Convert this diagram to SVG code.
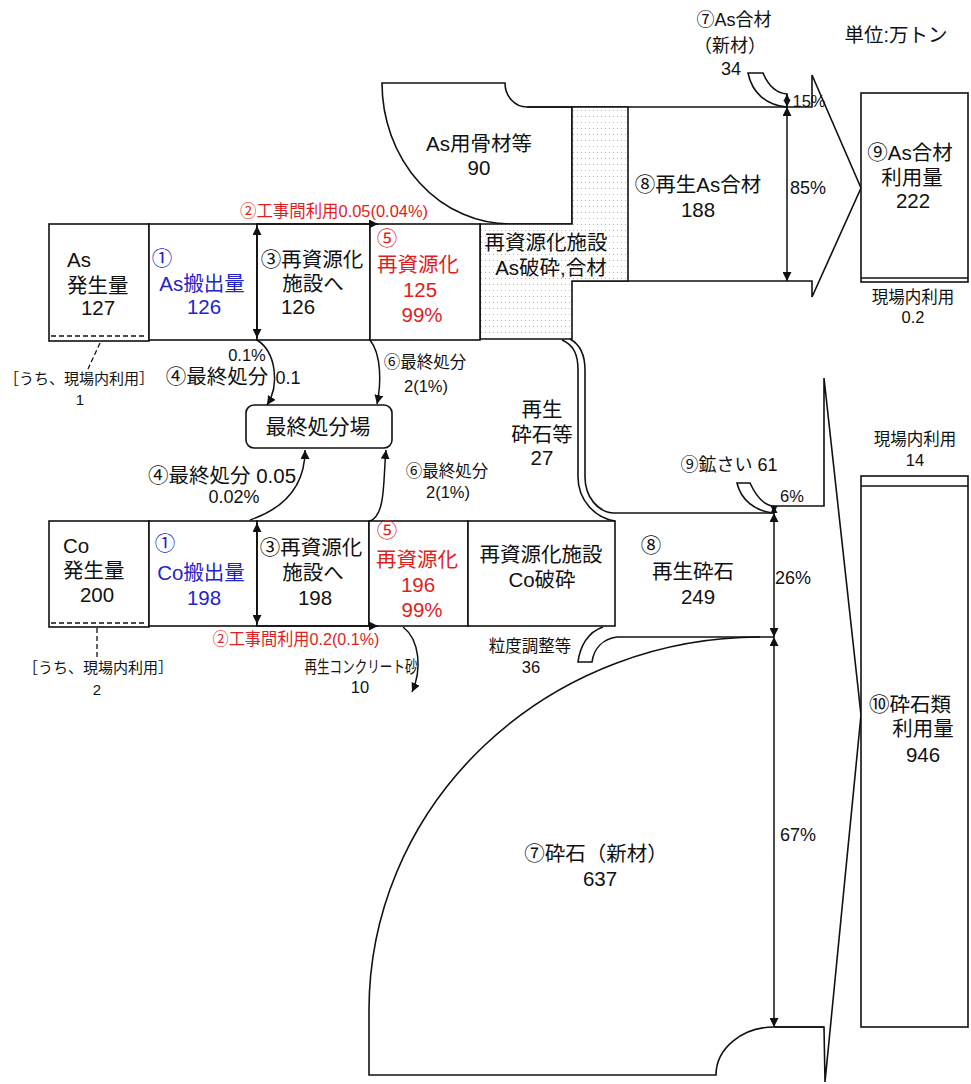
<svg xmlns="http://www.w3.org/2000/svg" width="971" height="1084" viewBox="0 0 971 1084">
<defs>
<style>
text{font-family:"Liberation Sans","Noto Sans CJK JP",sans-serif;fill:#111}
.L{font-size:20.5px}
.M{font-size:18px}
.S{font-size:16.5px}
.X{font-size:15px}
.c{text-anchor:middle}
.blue{fill:#2424c8}
.red{fill:#e01e1e}
.o{fill:#fff;stroke:#111;stroke-width:1.6}
.n{fill:none;stroke:#111;stroke-width:1.6}
.cn{fill:none;stroke:#111;stroke-width:1.5}
.dash{fill:none;stroke:#111;stroke-width:1.3;stroke-dasharray:5 3}
</style>
<marker id="ah" viewBox="0 0 10 10" refX="10" refY="5" markerWidth="9" markerHeight="9" markerUnits="userSpaceOnUse" orient="auto-start-reverse"><path d="M0,0 L10,5 L0,10 z" fill="#111"/></marker>
<marker id="ahs" viewBox="0 0 10 10" refX="10" refY="5" markerWidth="7" markerHeight="8" markerUnits="userSpaceOnUse" orient="auto-start-reverse"><path d="M0,0 L10,5 L0,10 z" fill="#111"/></marker>
<pattern id="dots" width="4" height="6" patternUnits="userSpaceOnUse"><rect width="4" height="6" fill="#fff"/><rect x="1" y="2" width="1" height="1" fill="#b4b4b4"/></pattern>
</defs>
<rect width="971" height="1084" fill="#fff"/>

<g id="unit"><text class="c" style="font-size:19.5px" x="896" y="42">単位:万トン</text></g>

<!-- Co virgin crushed stone -->
<g id="virgin-crushed-stone">
<path class="o" d="M760,637 A391,373 0 0 0 369,1010 V1075 H716 A58,48 0 0 1 774,1027 H824"/>
<text class="L c" x="596" y="861">⑦砕石（新材）</text>
<text class="L c" x="600" y="886">637</text>
</g>

<g id="crushed-stone-arrow">
<path class="n" d="M773,506 H824 V378 L861,715 L825,1082 L824,1027 H774"/>
</g>

<g id="crushed-stone-use">
<rect class="o" x="861" y="476" width="107" height="551"/>
<line class="n" x1="861" y1="486" x2="968" y2="486"/>
<text class="S c" x="915" y="445">現場内利用</text>
<text class="S c" x="915" y="466">14</text>
<text class="L c" x="910" y="712">⑩砕石類</text>
<text class="L c" x="923" y="736">利用量</text>
<text class="L c" x="923" y="762">946</text>
</g>

<!-- As aggregate -->
<g id="as-aggregate">
<path class="o" d="M382,83 H505 A22,24 0 0 0 527,107 H572 V224 H510 A128,141 0 0 1 382,83 Z"/>
<text class="L c" x="479" y="151">As用骨材等</text>
<text class="L c" x="479" y="175">90</text>
</g>

<g id="as-recycled">
<path class="n" d="M527,107 H812 V75 L861,188 L812,297 V281 H572"/>
<text class="L c" x="698" y="192">⑧再生As合材</text>
<text class="L c" x="698" y="217">188</text>
</g>

<g id="as-virgin">
<path class="o" d="M748,73 H763 C768,85 775,93 787,94 V107 C765,105 752,92 748,73 Z"/>
<text class="M c" x="734" y="26">⑦As合材</text>
<text class="M c" x="730" y="52">（新材）</text>
<text class="M c" x="731" y="75">34</text>
</g>

<g id="as-use">
<rect class="o" x="861" y="93" width="107" height="189"/>
<line class="n" x1="861" y1="278" x2="968" y2="278"/>
<text class="L c" x="910" y="160">⑨As合材</text>
<text class="L c" x="912" y="185">利用量</text>
<text class="L c" x="913" y="208">222</text>
<text class="S c" x="913" y="303">現場内利用</text>
<text class="S c" x="913" y="323">0.2</text>
</g>

<g id="as-facility">
<path d="M480,224 H572 V107 H628 V281 H572 V339 H480 Z" fill="url(#dots)" stroke="#111" stroke-width="1.6"/>
<text class="L c" x="546" y="250">再資源化施設</text>
<text class="L c" x="551" y="275">As破砕,合材</text>
</g>

<!-- As row -->
<g id="as-generation">
<rect class="o" x="49" y="224" width="100" height="117"/>
<line class="dash" x1="51" y1="336" x2="147" y2="336"/>
<text class="L" x="67" y="267">As</text>
<text class="L" x="67" y="293">発生量</text>
<text class="L c" x="98" y="315">127</text>
</g>
<g id="as-carryout">
<rect class="o" x="149" y="224" width="108" height="116"/>
<text class="L c blue" x="162" y="266">①</text>
<text class="L c blue" x="202" y="291">As搬出量</text>
<text class="L c blue" x="204" y="314">126</text>
</g>
<g id="as-to-facility">
<rect class="o" x="257" y="224" width="113" height="116"/>
<text class="L c" x="312" y="267">③再資源化</text>
<text class="L c" x="313" y="291">施設へ</text>
<text class="L c" x="298" y="314">126</text>
</g>
<g id="as-recycling">
<rect class="o" x="370" y="224" width="110" height="116"/>
<text class="L c red" x="387" y="246">⑤</text>
<text class="L c red" x="418" y="272">再資源化</text>
<text class="L c red" x="420" y="297">125</text>
<text class="L c red" x="422" y="322">99%</text>
</g>
<g id="as-onsite">
<text class="X c" x="79" y="384">［うち、現場内利用］</text>
<text class="X c" x="80" y="405">1</text>
</g>

<!-- landfill -->
<g id="landfill">
<rect class="o" x="246" y="405" width="146" height="43" rx="8"/>
<text class="c" style="font-size:21px" x="318" y="434">最終処分場</text>
</g>

<!-- Co row -->
<g id="co-generation">
<rect class="o" x="49" y="521" width="100" height="106"/>
<line class="dash" x1="51" y1="623" x2="147" y2="623"/>
<text class="L" x="63" y="553">Co</text>
<text class="L" x="63" y="578">発生量</text>
<text class="L c" x="97" y="602">200</text>
</g>
<g id="co-carryout">
<rect class="o" x="149" y="521" width="108" height="105"/>
<text class="L c blue" x="165" y="551">①</text>
<text class="L c blue" x="201" y="580">Co搬出量</text>
<text class="L c blue" x="204" y="605">198</text>
</g>
<g id="co-to-facility">
<rect class="o" x="257" y="521" width="112" height="105"/>
<text class="L c" x="311" y="555">③再資源化</text>
<text class="L c" x="313" y="580">施設へ</text>
<text class="L c" x="315" y="605">198</text>
</g>
<g id="co-recycling">
<rect class="o" x="369" y="521" width="99" height="105"/>
<text class="L c red" x="387" y="538">⑤</text>
<text class="L c red" x="417" y="567">再資源化</text>
<text class="L c red" x="418" y="592">196</text>
<text class="L c red" x="422" y="617">99%</text>
</g>
<g id="co-facility">
<rect class="o" x="468" y="521" width="147" height="105"/>
<text class="L c" x="541" y="562">再資源化施設</text>
<text class="L c" x="542" y="587">Co破砕</text>
</g>
<g id="co-onsite">
<text class="X c" x="98" y="673">［うち、現場内利用］</text>
<text class="X c" x="97" y="695">2</text>
</g>

<g id="recycled-crushed-stone-etc">
<path class="n" d="M562,340 C574,345 578,355 578,370 V477 C578,500 595,518 615,521"/>
<path class="n" d="M570,339 C581,345 585,355 585,370 V477 C585,497 598,512 613,513"/>
<text class="L c" x="542" y="417">再生</text>
<text class="L c" x="542" y="442">砕石等</text>
<text class="L c" x="542" y="465">27</text>
</g>

<g id="co-recycled">
<line class="n" x1="613" y1="513" x2="774" y2="513"/>
<line class="n" x1="617" y1="637" x2="774" y2="637"/>
<text class="L c" x="651" y="553">⑧</text>
<text class="L c" x="693" y="579">再生砕石</text>
<text class="L c" x="698" y="604">249</text>
</g>

<g id="slag">
<path class="o" d="M737,483 H750 C756,496 763,505 773,506 V513 C755,511 741,500 737,483 Z"/>
<text class="M c" x="729" y="471">⑨鉱さい 61</text>
</g>

<g id="grading">
<path class="o" d="M603,627 C588,632 580,646 578,662 H592 C594,648 603,639 617,637"/>
<text class="S c" x="530" y="652">粒度調整等</text>
<text class="S c" x="531" y="673">36</text>
</g>

<!-- connectors -->
<g id="connectors">
<line class="cn" x1="257" y1="226" x2="257" y2="338" marker-start="url(#ah)" marker-end="url(#ah)"/>
<line class="cn" x1="257" y1="523" x2="257" y2="624" marker-start="url(#ah)" marker-end="url(#ah)"/>
<line class="cn" x1="257" y1="224" x2="378" y2="224" marker-end="url(#ah)"/>
<line class="cn" x1="257" y1="626" x2="378" y2="626" marker-end="url(#ah)"/>
<line class="cn" x1="787" y1="94" x2="787" y2="107" marker-start="url(#ahs)" marker-end="url(#ahs)"/>
<line class="cn" x1="787" y1="107" x2="787" y2="281" marker-start="url(#ah)" marker-end="url(#ah)"/>
<line class="cn" x1="774" y1="506" x2="774" y2="513" marker-start="url(#ahs)" marker-end="url(#ahs)"/>
<line class="cn" x1="774" y1="513" x2="774" y2="637" marker-start="url(#ah)" marker-end="url(#ah)"/>
<line class="cn" x1="774" y1="637" x2="774" y2="1027" marker-start="url(#ah)" marker-end="url(#ah)"/>
<path class="cn" d="M257,340 C276,352 280,385 267,405" marker-end="url(#ah)"/>
<path class="cn" d="M370,340 C382,355 381,385 377,404" marker-end="url(#ah)"/>
<path class="cn" d="M250,520 C285,508 305,485 305,450" marker-end="url(#ah)"/>
<path class="cn" d="M370,521 C386,515 383,480 386,450" marker-end="url(#ah)"/>
<path class="cn" d="M403,627 C420,640 422,670 412,692" marker-end="url(#ah)"/>
<line class="dash" x1="100" y1="343" x2="88" y2="369"/>
<line class="dash" x1="97" y1="628" x2="97" y2="660"/>
</g>

<!-- connector labels -->
<g id="labels">
<text class="S red" x="240" y="217" textLength="188" lengthAdjust="spacingAndGlyphs">②工事間利用0.05(0.04%)</text>
<text class="S c red" x="296" y="645" textLength="167" lengthAdjust="spacingAndGlyphs">②工事間利用0.2(0.1%)</text>
<text class="S c" x="809" y="107">15%</text>
<text class="M c" x="808" y="194">85%</text>
<text class="S c" x="792" y="502">6%</text>
<text class="M c" x="793" y="584">26%</text>
<text class="M c" x="798" y="841">67%</text>
<text class="S c" x="247" y="361">0.1%</text>
<text class="L c" x="217" y="384">④最終処分</text>
<text class="M c" x="288" y="384">0.1</text>
<text class="S c" x="425" y="368">⑥最終処分</text>
<text class="S c" x="426" y="392">2(1%)</text>
<text class="L c" x="222" y="483">④最終処分 0.05</text>
<text class="M c" x="234" y="503">0.02%</text>
<text class="S c" x="447" y="477">⑥最終処分</text>
<text class="S c" x="448" y="498">2(1%)</text>
<text class="S c" x="361" y="673" textLength="113" lengthAdjust="spacingAndGlyphs">再生コンクリート砂</text>
<text class="S c" x="360" y="693">10</text>
</g>
</svg>
